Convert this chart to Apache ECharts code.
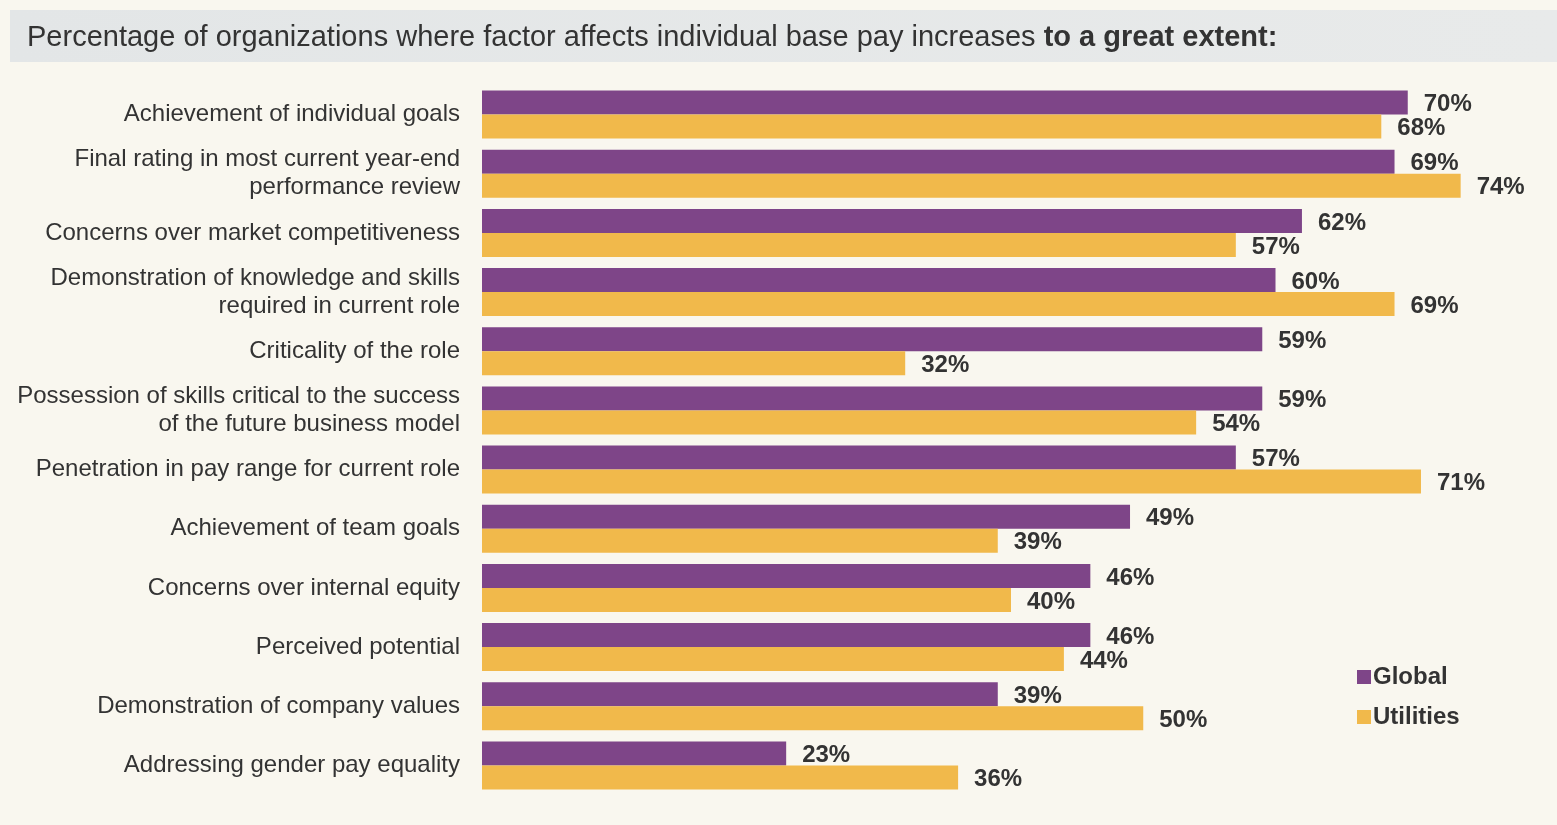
<!DOCTYPE html>
<html>
<head>
<meta charset="utf-8">
<script src="https://cdn.jsdelivr.net/npm/echarts@6/dist/echarts.min.js"></script>
<style>
  html, body { margin: 0; padding: 0; background: #f9f7ef; }
  #chart { width: 1557px; height: 825px; }
</style>
</head>
<body>
<div id="chart"></div>
<script>
// Factors that affect individual base pay increases, listed top to bottom
const categories = [
  'Achievement of individual goals',
  'Final rating in most current year-end\nperformance review',
  'Concerns over market competitiveness',
  'Demonstration of knowledge and skills\nrequired in current role',
  'Criticality of the role',
  'Possession of skills critical to the success\nof the future business model',
  'Penetration in pay range for current role',
  'Achievement of team goals',
  'Concerns over internal equity',
  'Perceived potential',
  'Demonstration of company values',
  'Addressing gender pay equality'
];
const globalValues    = [70, 69, 62, 60, 59, 59, 57, 49, 46, 46, 39, 23];
const utilitiesValues = [68, 74, 57, 69, 32, 54, 71, 39, 40, 44, 50, 36];

const FONT = '"Liberation Sans", Arial, sans-serif';
const TEXT = '#333333';

const chart = echarts.init(document.getElementById('chart'));

const valueLabel = {
  show: true,
  position: 'right',
  distance: 16,
  formatter: '{c}%',
  fontFamily: FONT,
  fontSize: 24,
  fontWeight: 'bold',
  color: TEXT,
  offset: [0, 2]
};

chart.setOption({
  backgroundColor: '#f9f7ef',
  animation: false,
  graphic: [{
    type: 'rect',
    left: 10, top: 10,
    shape: { width: 1547, height: 52 },
    style: {
      fill: new echarts.graphic.LinearGradient(0, 0, 1, 0, [
        { offset: 0, color: '#e3e6e7' },
        { offset: 1, color: '#e8eaea' }
      ])
    },
    z: -1
  }],
  title: {
    left: 22,
    top: 18,
    text: '{n|Percentage of organizations where factor affects individual base pay increases }{b|to a great extent:}',
    textStyle: {
      fontWeight: 'normal',
      rich: {
        n: { fontFamily: FONT, fontSize: 29, color: TEXT, fontWeight: 'normal' },
        b: { fontFamily: FONT, fontSize: 29, color: TEXT, fontWeight: 'bold' }
      }
    }
  },
  legend: {
    orient: 'vertical',
    left: 1352,
    top: 660,
    itemWidth: 14,
    itemHeight: 14,
    itemGap: 16,
    icon: 'rect',
    textStyle: { fontFamily: FONT, fontSize: 24, fontWeight: 'bold', color: TEXT, padding: [0, 0, 0, -3] },
    data: ['Global', 'Utilities']
  },
  grid: {
    left: 482,
    right: 17,
    top: 85,
    bottom: 30,
    containLabel: false
  },
  xAxis: {
    type: 'value',
    min: 0,
    max: 80,
    show: false
  },
  yAxis: {
    type: 'category',
    inverse: true,
    data: categories,
    axisLine: { show: false },
    axisTick: { show: false },
    axisLabel: {
      margin: 22,
      fontFamily: FONT,
      fontSize: 24,
      lineHeight: 28,
      color: TEXT,
      align: 'right',
      padding: [4, 0, 0, 0]
    }
  },
  series: [
    {
      name: 'Global',
      type: 'bar',
      data: globalValues,
      barWidth: 24,
      barGap: '0%',
      itemStyle: { color: '#7e4588' },
      label: valueLabel
    },
    {
      name: 'Utilities',
      type: 'bar',
      data: utilitiesValues,
      barWidth: 24,
      barGap: '0%',
      itemStyle: { color: '#f1b94b' },
      label: valueLabel
    }
  ]
});
</script>
</body>
</html>
